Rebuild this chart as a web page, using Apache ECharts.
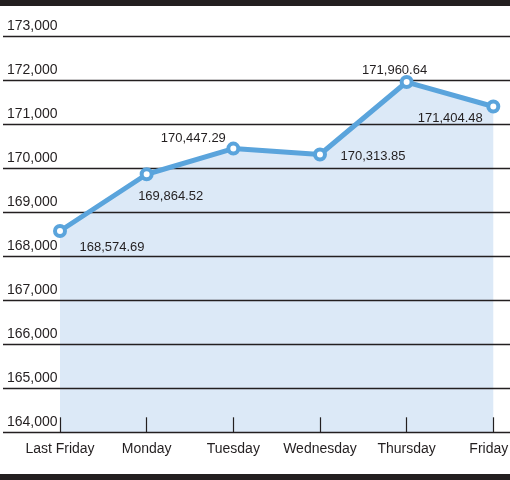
<!DOCTYPE html>
<html><head><meta charset="utf-8">
<script src="https://cdn.jsdelivr.net/npm/echarts@6/dist/echarts.min.js"></script>
<style>html,body{margin:0;padding:0;background:#fff}#c{width:510px;height:480px}</style>
</head><body><div id="c"></div>
<script>
const categories = ['Last Friday','Monday','Tuesday','Wednesday','Thursday','Friday'];
const values = [168574.69, 169864.52, 170447.29, 170313.85, 171960.64, 171404.48];
const valueLabels = ['168,574.69','169,864.52','170,447.29','170,313.85','171,960.64','171,404.48'];
const labelOffsets = [[52,16],[24,22],[-40,-10],[53,2],[-12,-12],[-43,12]];
const yMin = 164000, yMax = 173000, yStep = 1000;

const FONT = "'Liberation Sans',Arial,sans-serif";
const INK = '#231f20';
const BLUE = '#5aa4dc';
const chart = echarts.init(document.getElementById('c'));
const gTop = 36.3, gBottom = 47.7;
const lastCat = categories[categories.length - 1];
chart.setOption({
  animation: false,
  backgroundColor: '#fff',
  graphic: [
    {type:'rect', shape:{x:0,y:0,width:510,height:6}, style:{fill:INK}, z:10},
    {type:'rect', shape:{x:0,y:474,width:510,height:6}, style:{fill:INK}, z:10}
  ],
  grid: [
    {left:60, right:16.7, top:gTop, bottom:gBottom, containLabel:false, outerBoundsMode:'none'},
    {left:3, right:0, top:gTop, bottom:gBottom, containLabel:false, outerBoundsMode:'none'}
  ],
  xAxis: [
    {type:'category', gridIndex:0, data:categories, boundaryGap:false, z:4,
     axisLine:{show:false},
     axisTick:{show:true, inside:true, length:15, interval:0, lineStyle:{color:INK, width:1.2}},
     axisLabel:{margin:10, interval:0, color:INK, fontSize:14, fontFamily:FONT,
       formatter: v => v === lastCat ? '{t|' + v + '}{s|}' : v,
       rich:{t:{color:INK, fontSize:14, fontFamily:FONT}, s:{width:9}}}},
    {type:'value', gridIndex:1, show:false, min:0, max:1}
  ],
  yAxis: [
    {type:'value', gridIndex:0, min:yMin, max:yMax, interval:yStep, show:false},
    {type:'value', gridIndex:1, min:yMin, max:yMax, interval:yStep, z:3,
     axisLine:{show:false}, axisTick:{show:false},
     splitLine:{show:true, lineStyle:{color:INK, width:1.3}},
     axisLabel:{inside:true, margin:4, align:'left', verticalAlign:'bottom', padding:[0,0,3,0],
       color:INK, fontSize:14, fontFamily:FONT,
       formatter: v => v.toLocaleString('en-US')}}
  ],
  series: [
    {type:'line', xAxisIndex:0, yAxisIndex:0, data:values, z:1, showSymbol:false,
     lineStyle:{width:0}, areaStyle:{color:'#dce9f7', opacity:1}, silent:true},
    {type:'line', xAxisIndex:0, yAxisIndex:0, z:5,
     data: values.map((v,i)=>({value:v, label:{offset:labelOffsets[i], formatter:valueLabels[i]}})),
     symbol:'circle', symbolSize:10, showSymbol:true,
     itemStyle:{color:'#fff', borderColor:BLUE, borderWidth:4},
     lineStyle:{color:BLUE, width:5},
     label:{show:true, position:'inside', align:'center', verticalAlign:'middle',
       color:INK, fontSize:13, fontFamily:FONT}}
  ]
});
</script></body></html>
